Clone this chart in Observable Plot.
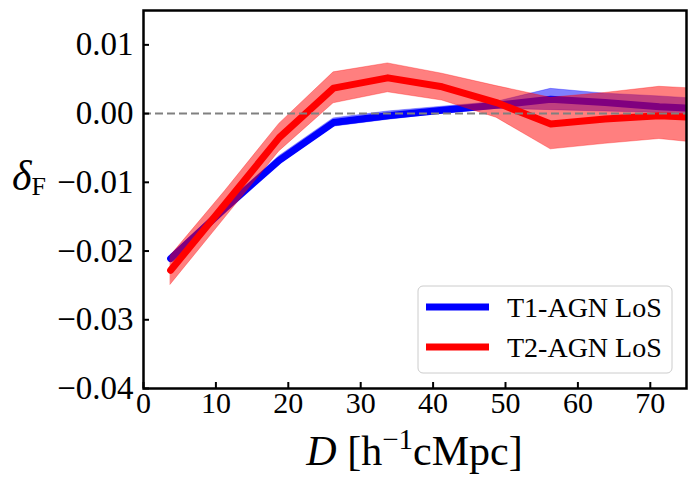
<!DOCTYPE html>
<html>
<head>
<meta charset="utf-8">
<script src="https://cdn.jsdelivr.net/npm/d3@7"></script>
<script src="https://cdn.jsdelivr.net/npm/@observablehq/plot@0.6"></script>
<style>
  body { margin: 0; background: #fff; }
  #chart svg { display: block; }
</style>
</head>
<body>
<div id="chart"></div>
<script>
// Data
const dist = [3.75, 11.25, 18.75, 26.25, 33.75, 41.25, 48.75, 56.25, 63.75, 71.25, 78.75];

const t1Mean = [-0.0211, -0.0138, -0.0068, -0.0013, -0.0003, 0.0005, 0.0012, 0.0021, 0.0016, 0.0010, 0.0006];
const t1Hi   = [-0.0206, -0.0133, -0.0062, -0.0007, 0.0003, 0.0010, 0.0017, 0.0036, 0.0029, 0.0025, 0.0020];
const t1Lo   = [-0.0216, -0.0143, -0.0074, -0.0019, -0.0009, 0.0000, 0.0007, 0.0005, 0.0003, 0.0001, -0.0004];

const t2Mean = [-0.0228, -0.0132, -0.0035, 0.0037, 0.0052, 0.0039, 0.0016, -0.0015, -0.0008, -0.0003, -0.0007];
const t2Hi   = [-0.0207, -0.0113, -0.0015, 0.0060, 0.0073, 0.0058, 0.0040, 0.0023, 0.0030, 0.0039, 0.0035];
const t2Lo   = [-0.0249, -0.0152, -0.0055, 0.0015, 0.0031, 0.0019, -0.0006, -0.0052, -0.0044, -0.0037, -0.0045];

const xTicks = [0, 10, 20, 30, 40, 50, 60, 70];
const yTicks = [0.01, 0.00, -0.01, -0.02, -0.03, -0.04];
const seriesNames = ["T1-AGN LoS", "T2-AGN LoS"];
const seriesColors = ["#0000ff", "#ff0000"];

const t1 = dist.map((d, i) => ({x: d, y: t1Mean[i], lo: t1Lo[i], hi: t1Hi[i]}));
const t2 = dist.map((d, i) => ({x: d, y: t2Mean[i], lo: t2Lo[i], hi: t2Hi[i]}));

const W = 695, H = 489;
const mL = 143, mR = 9, mT = 10, mB = 101;
const plotH = H - mT - mB;
const plotW = W - mL - mR;
const serif = "'Liberation Serif', 'DejaVu Serif', serif";

const svg = Plot.plot({
  width: W,
  height: H,
  marginLeft: mL,
  marginRight: mR,
  marginTop: mT,
  marginBottom: mB,
  style: {fontFamily: serif, fontSize: "30px", color: "#000", background: "#fff"},
  x: {domain: [0, 75], label: null},
  y: {domain: [-0.04, 0.015], label: null},
  marks: [
    Plot.areaY(t1, {x: "x", y1: "lo", y2: "hi", fill: seriesColors[0], fillOpacity: 0.5, stroke: seriesColors[0], strokeOpacity: 0.3, strokeWidth: 1, clip: true}),
    Plot.line(t1, {x: "x", y: "y", stroke: seriesColors[0], strokeWidth: 7, clip: true}),
    Plot.areaY(t2, {x: "x", y1: "lo", y2: "hi", fill: seriesColors[1], fillOpacity: 0.5, stroke: seriesColors[1], strokeOpacity: 0.3, strokeWidth: 1, clip: true}),
    Plot.line(t2, {x: "x", y: "y", stroke: seriesColors[1], strokeWidth: 7, clip: true}),
    Plot.ruleY([0], {stroke: "#808080", strokeWidth: 2, strokeDasharray: "8,4"}),
    Plot.tickX(xTicks, {x: d => d, stroke: "#000", strokeWidth: 2, insetTop: plotH - 6}),
    Plot.tickY(yTicks, {y: d => d, stroke: "#000", strokeWidth: 2, insetRight: plotW - 6}),
    Plot.axisX({ticks: xTicks, tickSize: 0, tickPadding: 3, fontSize: 30, tickFormat: d3.format("d"), label: null}),
    Plot.axisY({ticks: yTicks, tickSize: 0, tickPadding: 10, fontSize: 33, tickFormat: d3.format(".2f"), label: null}),
    Plot.frame({stroke: "#000", strokeWidth: 2.5})
  ]
});

const s = d3.select(svg);

// x-axis label
const xl = s.append("text")
  .attr("x", mL + plotW / 2)
  .attr("y", 465)
  .attr("text-anchor", "middle")
  .attr("font-family", serif)
  .attr("font-size", 42)
  .attr("fill", "#000");
xl.append("tspan").attr("font-style", "italic").text("D");
xl.append("tspan").text(" [h");
xl.append("tspan").attr("font-size", 29).attr("dy", -16).text("\u22121");
xl.append("tspan").attr("dy", 16).text("cMpc]");

// y-axis label
const yl = s.append("text")
  .attr("x", 12)
  .attr("y", 190)
  .attr("text-anchor", "start")
  .attr("font-family", serif)
  .attr("font-size", 42)
  .attr("fill", "#000");
yl.append("tspan").attr("font-style", "italic").text("\u03b4");
yl.append("tspan").attr("font-size", 26).attr("dy", 5).text("F");

// legend
const lg = s.append("g").attr("transform", "translate(418,286)");
lg.append("rect")
  .attr("width", 254).attr("height", 87)
  .attr("rx", 5).attr("ry", 5)
  .attr("fill", "#fff").attr("fill-opacity", 0.8)
  .attr("stroke", "#cccccc").attr("stroke-width", 1);
seriesNames.forEach((name, i) => {
  const yy = 21 + i * 40;
  lg.append("line")
    .attr("x1", 8).attr("x2", 71)
    .attr("y1", yy).attr("y2", yy)
    .attr("stroke", seriesColors[i]).attr("stroke-width", 7);
  lg.append("text")
    .attr("x", 89).attr("y", yy + 10)
    .attr("text-anchor", "start")
    .attr("font-family", serif)
    .attr("font-size", 28)
    .attr("fill", "#000")
    .text(name);
});

document.getElementById("chart").appendChild(svg);
</script>
</body>
</html>
